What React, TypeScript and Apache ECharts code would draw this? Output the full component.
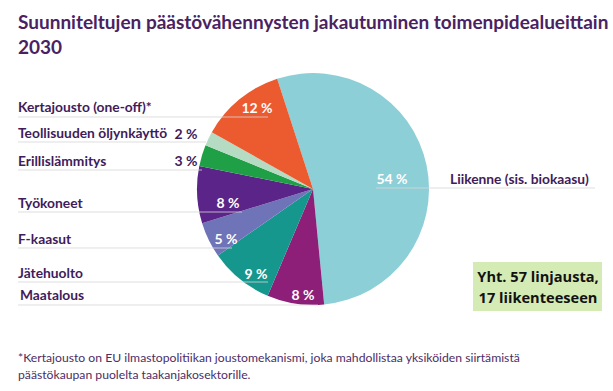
import React, { useEffect, useRef } from "react";
import * as echarts from "echarts";

const TITLE_LINES = ["Suunniteltujen päästövähennysten jakautuminen toimenpidealueittain", "2030"];
const CATEGORIES = [
  "Liikenne (sis. biokaasu)",
  "Maatalous",
  "Jätehuolto",
  "F-kaasut",
  "Työkoneet",
  "Erillislämmitys",
  "Teollisuuden öljynkäyttö",
  "Kertajousto (one-off)*",
];
const SHARES = [54, 8, 9, 5, 8, 3, 2, 12];
const COLORS = ["#8ccfd7", "#8d1f78", "#16978e", "#6e74b7", "#5a2489", "#20a046", "#b5dcc3", "#ec5a2f"];
const OUTSIDE_LABEL = [false, false, false, false, false, true, true, false];
const FOOTNOTE = [
  "*Kertajousto on EU ilmastopolitiikan joustomekanismi, joka mahdollistaa yksiköiden siirtämistä",
  "päästökaupan puolelta taakanjakosektorille.",
];
const NOTE_LINES = ["Yht. 57 linjausta,", "17 liikenteeseen"];

// layout (pixel positions for labels / leader lines)
const PCT_POS: [number, number][] = [
  [392, 178], [303, 294], [256, 273], [226, 238], [228, 202], [186, 160], [186, 133], [257, 107],
];
const NAME_POS: [number, number][] = [
  [450, 178], [20, 294], [18, 272], [18, 238], [18, 202], [18, 160], [18, 132], [18, 106],
];
const LINE_POS: [number, number, number][] = [
  [376, 595, 188], [18, 318, 305], [18, 268, 282], [18, 232, 248], [18, 242, 212], [18, 202, 170], [18, 206, 142], [18, 268, 117],
];

const PURPLE = "#3f1c5a";

export default function App() {
  const ref = useRef<HTMLDivElement>(null);
  useEffect(() => {
    if (!ref.current) return;
    const chart = echarts.init(ref.current, undefined, { renderer: "svg" });
    const graphics: any[] = [];
    TITLE_LINES.forEach((t, i) => {
      graphics.push({
        type: "text", left: 18, top: 12 + i * 25, z: 100,
        style: { text: t, fill: "#4a2262", font: "bold 19px Lato" },
      });
    });
    CATEGORIES.forEach((c, i) => {
      const [x1, x2, y] = LINE_POS[i];
      graphics.push({
        type: "line", z: 100,
        shape: { x1, y1: y, x2, y2: y },
        style: { stroke: "#d6d6d6", lineWidth: 1, opacity: 0.8 },
      });
      const [x, ty] = NAME_POS[i];
      graphics.push({
        type: "text", x, y: ty, z: 100,
        style: { text: c, fill: PURPLE, font: "bold 13.8px Lato", textVerticalAlign: "middle", textAlign: "left" },
      });
    });
    FOOTNOTE.forEach((t, i) => {
      graphics.push({
        type: "text", x: 18, y: 357 + i * 17, z: 100,
        style: { text: t, fill: "#4d2d66", font: "12.2px Lato", textVerticalAlign: "middle" },
      });
    });
    graphics.push({
      type: "rect", z: 100,
      shape: { x: 473, y: 262, width: 129, height: 49 },
      style: { fill: "#d5ebb6" },
    });
    NOTE_LINES.forEach((t, i) => {
      graphics.push({
        type: "text", x: 538, y: 276 + i * 21, z: 101,
        style: { text: t, fill: "#111", font: "bold 14.6px 'Open Sans'", textAlign: "center", textVerticalAlign: "middle" },
      });
    });

    chart.setOption({
      animation: false,
      graphic: graphics,
      series: [
        {
          type: "pie",
          center: [313, 189],
          radius: [0, 116],
          startAngle: 108,
          clockwise: true,
          avoidLabelOverlap: false,
          labelLine: { show: false },
          label: {
            show: true,
            position: "inside",
            formatter: "{c} %",
            color: "#fff",
            fontFamily: "Lato",
            fontWeight: "bold",
            fontSize: 14,
          },
          labelLayout: (p: any) => ({
            x: PCT_POS[p.dataIndex][0],
            y: PCT_POS[p.dataIndex][1],
            align: "center",
            verticalAlign: "middle",
          }),
          emphasis: { disabled: true },
          data: CATEGORIES.map((name, i) => ({
            name,
            value: SHARES[i],
            itemStyle: { color: COLORS[i] },
            label: OUTSIDE_LABEL[i] ? { color: PURPLE } : {},
          })),
        },
      ],
    });
    return () => chart.dispose();
  }, []);
  return (
    <div
      ref={ref}
      style={{ position: "fixed", left: 0, top: 0, width: 613, height: 391, background: "#fff" }}
    />
  );
}
